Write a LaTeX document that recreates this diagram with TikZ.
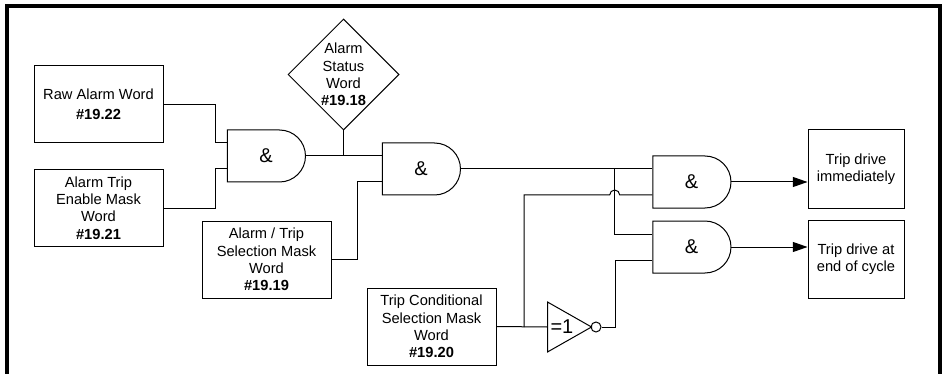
\documentclass[tikz,border=0pt]{standalone}
\usepackage{fontspec}
\setmainfont{Liberation Sans}
\usetikzlibrary{arrows.meta,positioning,calc,shapes.geometric,shapes.misc}
\begin{document}
\begin{tikzpicture}[
  x=0.75pt, y=-0.75pt,
  font=\fontsize{11}{13}\selectfont,
  wire/.style={line width=0.75pt},
  regbox/.style={draw, line width=0.75pt, align=center, inner sep=0pt,
    minimum width=96.75pt, minimum height=57.75pt},
  tripbox/.style={regbox, minimum width=72pt, minimum height=58.5pt},
  statusword/.style={draw, diamond, aspect=1, line width=0.75pt, align=center,
    inner sep=0pt, minimum width=83.25pt, minimum height=83.25pt},
  andgate/.style={draw, rounded rectangle, rounded rectangle left arc=none, line width=0.75pt,
    inner sep=0pt, minimum width=58.5pt, minimum height=39pt,
    font=\fontsize{15}{15}\selectfont},
  invgate/.style={draw, isosceles triangle, isosceles triangle stretches,
    line width=0.75pt, inner sep=0pt, minimum width=37.5pt, minimum height=33pt,
    font=\fontsize{15}{15}\selectfont},
  invbubble/.style={draw, circle, line width=0.75pt, inner sep=0pt, minimum size=7.5pt},
]
\useasboundingbox (0,0) rectangle (942,374);
\draw[line width=3pt] (7,374) -- (7,6) -- (940,6) -- (940,374);
\node[regbox] (rawword) at (98.5,104.5) {Raw Alarm Word\\[2pt]\textbf{\#19.22}};
\node[regbox] (enableword) at (98.5,208) {Alarm Trip\\Enable Mask\\Word\\\textbf{\#19.21}};
\node[regbox] (selectword) at (266.5,259.5) {Alarm / Trip\\Selection Mask\\Word\\\textbf{\#19.19}};
\node[regbox] (condword) at (431.5,326.5) {Trip Conditional\\Selection Mask\\Word\\\textbf{\#19.20}};
\node[statusword] (statusword) at (343.5,74.5) {Alarm\\Status\\Word\\\textbf{\#19.18}};
\node[andgate] (andone) at (266,156) {\&};
\node[andgate] (andtwo) at (421,169) {\&};
\node[andgate] (andthree) at (691.5,182) {\&};
\node[andgate] (andfour) at (691.5,247) {\&};
\node[invgate, anchor=west] (notgate) at (547,327) {=1};
\node[invbubble] (notbubble) at (596,327) {};
\node[tripbox] (tripnow) at (856,169) {Trip drive\\immediately};
\node[tripbox] (tripend) at (856,259.5) {Trip drive at\\end of cycle};
\foreach \gate in {andone,andtwo,andthree,andfour} {
  \coordinate (\gate in1) at ($(\gate.west)+(0,-13)$);
  \coordinate (\gate in2) at ($(\gate.west)+(0,13)$);
}
\coordinate (condjoin) at (524,327);
\coordinate (sharejoin) at (614.7,169);
\coordinate (hopstart) at (609.7,195);
\draw[wire] (rawword.east) -- ++(52,0) |- (andonein1);
\draw[wire] (enableword.east) -- ++(52,0) |- (andonein2);
\draw[wire] (andone.east) -- (andtwoin1);
\draw[wire] (statusword.south) -- (statusword.south |- andone.east);
\draw[wire] (selectword.east) -- ++(26,0) |- (andtwoin2);
\draw[wire] (andtwo.east) -- (andthreein1);
\draw[wire] (sharejoin) |- (andfourin1);
\draw[wire] (condword.east) -- (notgate.west);
\draw[wire] (condjoin) |- (hopstart) arc[start angle=180, end angle=360, radius=5] -- (andthreein2);
\draw[wire] (notbubble.east) -- ++(14,0) |- (andfourin2);
\draw[wire, -{Stealth[length=11pt, width=7.5pt, inset=0pt]}] (andthree.east) -- (andthree.east -| tripnow.west);
\draw[wire, -{Stealth[length=11pt, width=7.5pt, inset=0pt]}] (andfour.east) -- (andfour.east -| tripend.west);
\end{tikzpicture}
\end{document}
